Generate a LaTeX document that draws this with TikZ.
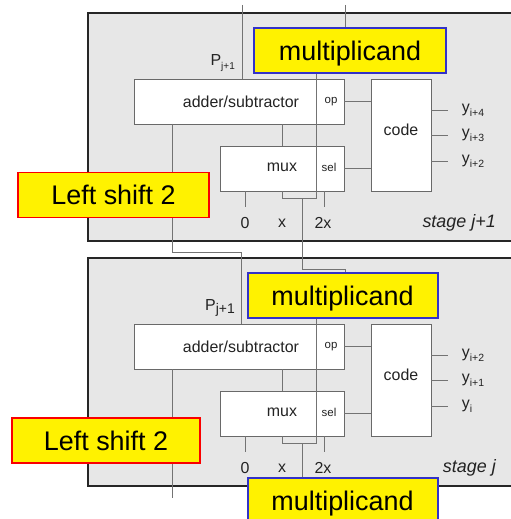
\documentclass[tikz,border=0pt]{standalone}
\usepackage{fontspec}
\setmainfont{Liberation Sans}
\usetikzlibrary{positioning}

\definecolor{panelgray}{RGB}{231,231,231}
\definecolor{boxgray}{RGB}{105,105,105}
\definecolor{wiregray}{RGB}{115,115,115}
\definecolor{textgray}{RGB}{35,35,35}
\definecolor{tagblue}{RGB}{50,50,200}
\definecolor{tagred}{RGB}{250,0,0}

% lowered index, size given as optional argument
\newcommand\lowidx[2][10]{\raisebox{-0.45ex}{\fontsize{#1}{#1}\selectfont #2}}

\tikzset{
  stagebg/.style={fill=panelgray, draw=black!85, line width=1.3pt},
  unit/.style={draw=boxgray, fill=white, line width=0.9pt, minimum height=45bp, inner sep=0pt},
  wire/.style={draw=wiregray, line width=0.8pt},
  lbl/.style={text=textgray, font=\fontsize{16}{18}\selectfont, inner sep=1pt},
  portlbl/.style={text=textgray, font=\fontsize{11.5}{13}\selectfont, inner sep=1pt},
  tag/.style={fill=yellow, line width=2pt, minimum height=45bp, inner sep=0pt, text depth=0pt,
    font=\fontsize{27}{30}\selectfont},
}

\begin{document}
\begin{tikzpicture}[x=1bp, y=-1bp]
  \useasboundingbox (0,0) rectangle (511,519);

  % one stage per pass: a = stage j+1, b = stage j
  \foreach \s/\dy/\mx/\mw/\ya/\yb/\yc/\stg/\ps in
      {a/0/350/192/{i+4}/{i+3}/{i+2}/{j+1}/10, b/245/342.5/190/{i+2}/{i+1}/{i}/{j}/14} {
    \draw[stagebg] (88,13+\dy) rectangle (513,241+\dy);

    % blocks
    \node[unit, minimum width=210bp] (add-\s) at (239,101.5+\dy) {};
    \node[unit, minimum width=124bp] (mux-\s) at (282,168.5+\dy) {};
    \node[unit, minimum width=60bp, minimum height=112bp] (code-\s) at (401,135+\dy) {};
    \node[tag, draw=tagblue, minimum width={\mw bp}] (mult-\s) at (\mx,50.5+\dy) {multiplicand};

    \node[lbl] (addtxt-\s) at (241,101.5+\dy) {adder/subtractor};
    \node[portlbl] (op-\s) at (331,101.5+\dy) {op};
    \node[lbl] (muxtxt-\s) at (282,167.5+\dy) {mux};
    \node[portlbl] (sel-\s) at (329,167.5+\dy) {sel};
    \node[lbl] (codetxt-\s) at (401,130+\dy) {code};

    % wiring inside the stage
    \coordinate (tap-\s) at (316,198+\dy);
    \coordinate (shl-\s) at (302,198+\dy);
    \coordinate (sum-\s) at (172,124+\dy);
    \draw[wire] (mult-\s.south -| tap-\s) -- (tap-\s) -| (mux-\s.south);
    \draw[wire] (add-\s.south -| mux-\s.north) -- (mux-\s.north);
    \draw[wire] (add-\s.east) -- (add-\s.east -| code-\s.west);
    \draw[wire] (mux-\s.east) -- (mux-\s.east -| code-\s.west);
    \foreach \k/\yo/\yy in {1/32/\ya, 2/57/\yb, 3/83/\yc}
      \draw[wire] ([yshift=-\yo bp]code-\s.north east) -- ++(17,0)
        node[lbl, right=12bp] (out\k-\s) {y\lowidx[10.5]{\yy}};

    % mux inputs
    \node[lbl] (in0-\s) at (245,223+\dy) {0};
    \node[lbl] (inx-\s) at (282,223+\dy) {x};
    \node[lbl] (in2-\s) at (323,223+\dy) {2x};
    \draw[wire] (in0-\s.north |- mux-\s.south) -- ++(0,16);
    \draw[wire] ([xshift=1bp]in2-\s.north |- mux-\s.south) -- ++(0,16);

    \node[lbl, font=\itshape\fontsize{18}{20}\selectfont, anchor=east] (stg-\s) at (497,223+\dy) {stage \stg};
    \node[lbl, anchor=east] (p-\s) at (236,63+\dy) {P\lowidx[\ps]{j+1}};
  }

  % inputs from above
  \coordinate (feed-a) at (345,5);
  \coordinate (pfeed-a) at (242,5);
  \draw[wire] (feed-a) -- (feed-a |- mult-a.north);
  \draw[wire] (pfeed-a) -- (pfeed-a |- add-a.north);

  % stage j+1 into stage j
  \coordinate (pnext) at (241,252);
  \draw[wire] (sum-a) |- (pnext) -- (pnext |- add-b.north);
  \coordinate (feed-b) at (345,269);
  \draw[wire] (shl-a) |- (feed-b) -- (feed-b |- mult-b.north);

  % out of stage j
  \node[tag, draw=tagblue, minimum width=190bp] (mult-c) at (342.5,500.5) {multiplicand};
  \draw[wire] (shl-b) -- (shl-b |- mult-c.north);
  \coordinate (pend) at (172,498);
  \draw[wire] (sum-b) -- (pend);

  \node[tag, draw=tagred, minimum width=191bp] (shift-a) at (113.5,195) {Left shift 2};
  \node[tag, draw=tagred, minimum width=188bp] (shift-b) at (106,440.5) {Left shift 2};
\end{tikzpicture}
\end{document}
